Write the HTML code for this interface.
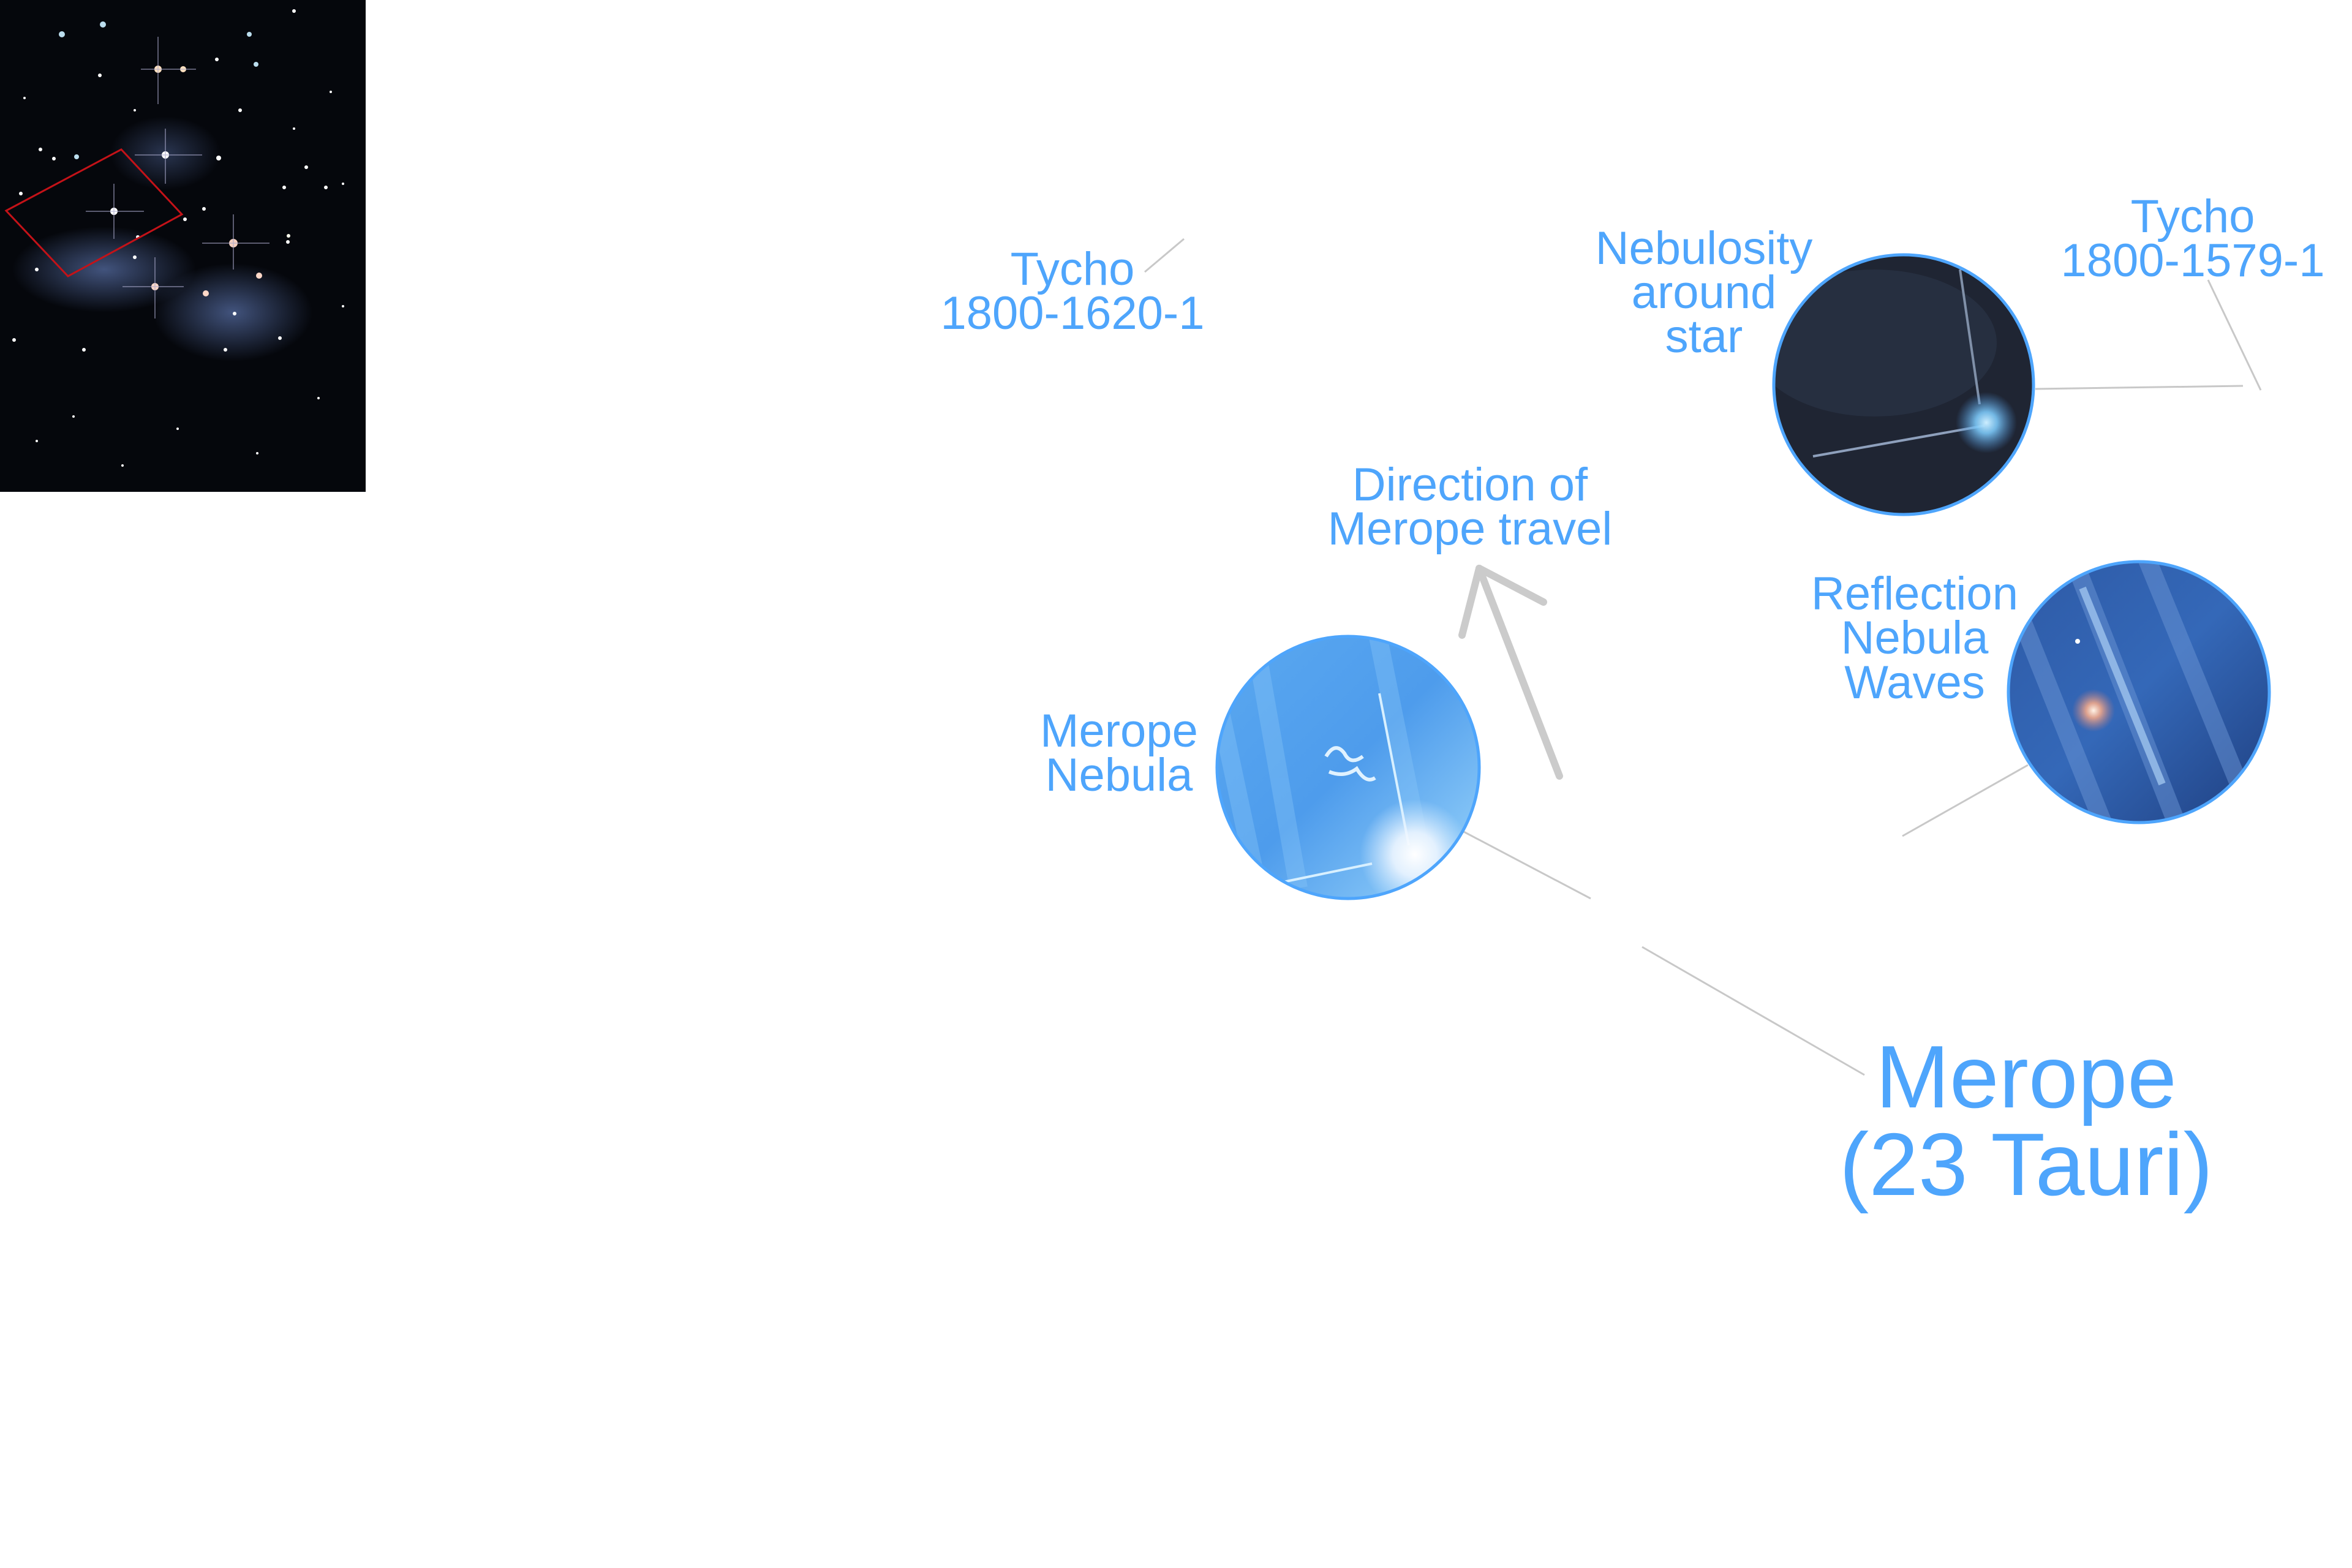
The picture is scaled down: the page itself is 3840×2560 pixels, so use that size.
<!DOCTYPE html>
<html><head><meta charset="utf-8"><style>
html,body{margin:0;padding:0;background:#fff;}
svg{display:block;}
text{font-family:"Liberation Sans",Arial,sans-serif;fill:#4ea5fc;text-anchor:middle;}
</style></head><body>
<svg width="3840" height="2560" viewBox="0 0 3840 2560" xmlns="http://www.w3.org/2000/svg">
<defs>
<radialGradient id="neb1" cx="0.5" cy="0.5" r="0.5"><stop offset="0" stop-color="#6a86c8" stop-opacity="0.6"/><stop offset="1" stop-color="#6a86c8" stop-opacity="0"/></radialGradient>
<radialGradient id="glowW" cx="0.5" cy="0.5" r="0.5"><stop offset="0" stop-color="#fff" stop-opacity="1"/><stop offset="0.4" stop-color="#eef6ff" stop-opacity="0.9"/><stop offset="1" stop-color="#d8ecff" stop-opacity="0"/></radialGradient>
<radialGradient id="glowB" cx="0.5" cy="0.5" r="0.5"><stop offset="0" stop-color="#cdeeff"/><stop offset="0.35" stop-color="#7cc8f8" stop-opacity="0.9"/><stop offset="1" stop-color="#4a8ed8" stop-opacity="0"/></radialGradient>
<radialGradient id="glowO" cx="0.5" cy="0.5" r="0.5"><stop offset="0" stop-color="#fff4e8"/><stop offset="0.35" stop-color="#f0a88a" stop-opacity="0.9"/><stop offset="1" stop-color="#c07a80" stop-opacity="0"/></radialGradient>
<linearGradient id="mn" x1="0" y1="0" x2="1" y2="1"><stop offset="0" stop-color="#5aa8f0"/><stop offset="0.5" stop-color="#4e9cec"/><stop offset="1" stop-color="#9cd6fb"/></linearGradient>
<linearGradient id="rf" x1="0" y1="0" x2="1" y2="1"><stop offset="0" stop-color="#2e5aa6"/><stop offset="0.5" stop-color="#3468b8"/><stop offset="1" stop-color="#1f3f80"/></linearGradient>
<clipPath id="c1"><circle cx="2201" cy="1253" r="213"/></clipPath>
<clipPath id="c2"><circle cx="3108" cy="628" r="211"/></clipPath>
<clipPath id="c3"><circle cx="3492" cy="1130" r="212"/></clipPath>
</defs>

<!-- Photo -->
<rect x="0" y="0" width="597" height="803" fill="#05070c"/>
<ellipse cx="170" cy="440" rx="150" ry="70" fill="url(#neb1)"/>
<ellipse cx="380" cy="510" rx="130" ry="80" fill="url(#neb1)"/>
<ellipse cx="270" cy="250" rx="90" ry="60" fill="url(#neb1)" opacity="0.6"/>
<g fill="#fff">
<circle cx="186" cy="345" r="6"/><circle cx="270" cy="253" r="6"/><circle cx="381" cy="397" r="7" fill="#f5d0c0"/>
<circle cx="258" cy="113" r="6" fill="#ffe0c0"/><circle cx="299" cy="113" r="5" fill="#ffe0c0"/>
<circle cx="253" cy="468" r="6" fill="#ffd8c8"/><circle cx="336" cy="479" r="5" fill="#ffd8c8"/>
<circle cx="423" cy="450" r="5" fill="#ffd8c8"/><circle cx="101" cy="56" r="5" fill="#bde"/><circle cx="168" cy="40" r="5" fill="#bde"/>
<circle cx="407" cy="56" r="4" fill="#bde"/><circle cx="418" cy="105" r="4" fill="#bde"/><circle cx="480" cy="18" r="3"/>
<circle cx="66" cy="244" r="3"/><circle cx="88" cy="259" r="3"/><circle cx="125" cy="256" r="4" fill="#bde"/>
<circle cx="357" cy="258" r="4"/><circle cx="464" cy="306" r="3"/><circle cx="470" cy="395" r="3"/><circle cx="471" cy="385" r="3" fill="#ffe"/>
<circle cx="392" cy="180" r="3"/><circle cx="302" cy="358" r="3"/><circle cx="333" cy="341" r="3"/><circle cx="225" cy="387" r="3"/>
<circle cx="220" cy="420" r="3"/><circle cx="383" cy="512" r="3"/><circle cx="457" cy="552" r="3"/><circle cx="23" cy="555" r="3"/>
<circle cx="34" cy="316" r="3"/><circle cx="163" cy="123" r="3"/><circle cx="354" cy="97" r="3"/><circle cx="60" cy="440" r="3"/>
<circle cx="137" cy="571" r="3"/><circle cx="368" cy="571" r="3"/><circle cx="560" cy="300" r="2"/><circle cx="540" cy="150" r="2"/>
<circle cx="500" cy="273" r="3"/><circle cx="532" cy="306" r="3"/><circle cx="290" cy="700" r="2"/><circle cx="420" cy="740" r="2"/>
<circle cx="120" cy="680" r="2"/><circle cx="60" cy="720" r="2"/><circle cx="520" cy="650" r="2"/><circle cx="200" cy="760" r="2"/>
<circle cx="560" cy="500" r="2"/><circle cx="40" cy="160" r="2"/><circle cx="220" cy="180" r="2"/><circle cx="480" cy="210" r="2"/>
</g>
<g stroke="#aac" stroke-width="1.5" opacity="0.7">
<line x1="186" y1="300" x2="186" y2="390"/><line x1="140" y1="345" x2="235" y2="345"/>
<line x1="270" y1="210" x2="270" y2="300"/><line x1="220" y1="253" x2="330" y2="253"/>
<line x1="381" y1="350" x2="381" y2="440"/><line x1="330" y1="397" x2="440" y2="397"/>
<line x1="253" y1="420" x2="253" y2="520"/><line x1="200" y1="468" x2="300" y2="468"/>
<line x1="258" y1="60" x2="258" y2="170"/><line x1="230" y1="113" x2="320" y2="113"/>
</g>
<polygon points="10,344 198,244 297,350 111,451" fill="none" stroke="#c41218" stroke-width="3"/>

<!-- connectors -->
<g stroke="#c8c8c8" stroke-width="3" fill="none">
<line x1="1869" y1="444" x2="1933" y2="390"/>
<polyline points="3323,635 3662,630"/>
<line x1="3605" y1="457" x2="3691" y2="637"/>
<line x1="3106" y1="1365" x2="3311" y2="1249"/>
<line x1="2390" y1="1358" x2="2597" y2="1467"/>
<line x1="2681" y1="1546" x2="3044" y2="1755"/>
</g>
<g stroke="#cbcbcb" stroke-width="12" stroke-linecap="round" fill="none">
<line x1="2546" y1="1267" x2="2415" y2="928"/>
<line x1="2415" y1="928" x2="2387" y2="1037"/>
<line x1="2415" y1="928" x2="2520" y2="983"/>
</g>

<!-- Merope nebula circle -->
<circle cx="2201" cy="1253" r="214" fill="url(#mn)"/>
<g clip-path="url(#c1)">
<g stroke="#8cc8f8" stroke-width="30" opacity="0.35"><line x1="2050" y1="1050" x2="2120" y2="1450"/><line x1="2250" y1="1040" x2="2330" y2="1440"/><line x1="1990" y1="1150" x2="2060" y2="1480"/></g>
<line x1="2252" y1="1132" x2="2300" y2="1380" stroke="#d8f0ff" stroke-width="4"/>
<line x1="2095" y1="1440" x2="2240" y2="1410" stroke="#d8f0ff" stroke-width="4"/>
<circle cx="2310" cy="1395" r="90" fill="url(#glowW)"/>
<path d="M2165 1235 q15 -25 30 -5 q10 20 30 5 M2170 1260 q25 10 45 -5 q15 25 30 15" stroke="#e0f2ff" stroke-width="6" fill="none"/>
</g>
<circle cx="2201" cy="1253" r="214" fill="none" stroke="#4ea5fc" stroke-width="5"/>

<!-- Dark circle -->
<circle cx="3108" cy="628" r="212" fill="#1f2533"/>
<g clip-path="url(#c2)">
<ellipse cx="3060" cy="560" rx="200" ry="120" fill="#2a3346" opacity="0.7"/>
<line x1="3200" y1="440" x2="3232" y2="660" stroke="#8090a8" stroke-width="4"/>
<line x1="2960" y1="745" x2="3240" y2="695" stroke="#8ea0bc" stroke-width="4"/>
<circle cx="3243" cy="690" r="50" fill="url(#glowB)"/>
</g>
<circle cx="3108" cy="628" r="212" fill="none" stroke="#4ea5fc" stroke-width="5"/>

<!-- Reflection circle -->
<circle cx="3492" cy="1130" r="213" fill="url(#rf)"/>
<g clip-path="url(#c3)">
<g stroke="#6a94d4" stroke-width="30" opacity="0.5"><line x1="3380" y1="900" x2="3560" y2="1360"/><line x1="3500" y1="900" x2="3680" y2="1340"/><line x1="3280" y1="960" x2="3440" y2="1360"/></g>
<line x1="3400" y1="960" x2="3530" y2="1280" stroke="#9ec4ee" stroke-width="12" opacity="0.8"/>
<circle cx="3392" cy="1047" r="4" fill="#fff"/>
<circle cx="3418" cy="1160" r="35" fill="url(#glowO)"/>
</g>
<circle cx="3492" cy="1130" r="213" fill="none" stroke="#4ea5fc" stroke-width="5"/>

<!-- labels -->
<g font-size="76">
<text x="1751" y="465">Tycho</text><text x="1751" y="537">1800-1620-1</text>
<text x="3580" y="379">Tycho</text><text x="3580" y="451">1800-1579-1</text>
<text x="2782" y="431">Nebulosity</text><text x="2782" y="503">around</text><text x="2782" y="575">star</text>
<text x="2400" y="817">Direction of</text><text x="2400" y="889">Merope travel</text>
<text x="3126" y="995">Reflection</text><text x="3126" y="1067">Nebula</text><text x="3126" y="1140">Waves</text>
<text x="1827" y="1219">Merope</text><text x="1827" y="1291">Nebula</text>
</g>
<g font-size="145">
<text x="3308" y="1808">Merope</text>
<text x="3308" y="1951">(23 Tauri)</text>
</g>
</svg>
</body></html>
